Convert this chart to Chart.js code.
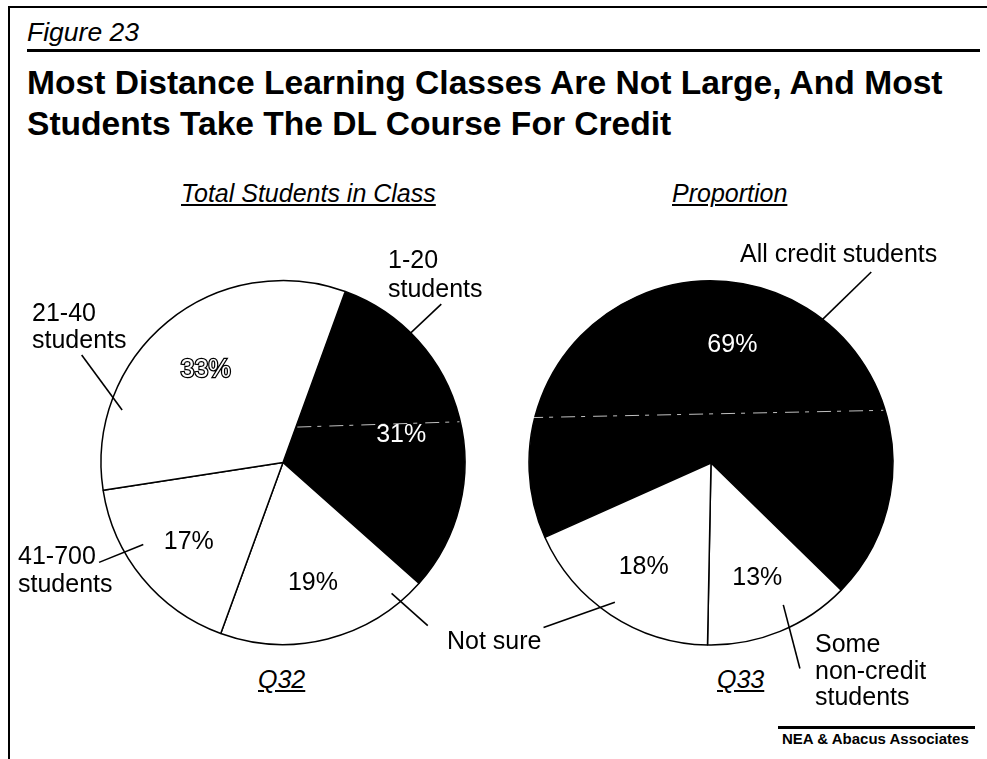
<!DOCTYPE html>
<html>
<head>
<meta charset="utf-8">
<script src="https://cdn.jsdelivr.net/npm/chart.js@4.4.1/dist/chart.umd.min.js"></script>
<style>
  body { margin: 0; background: #fff; }
  #page { position: relative; width: 987px; height: 759px; overflow: hidden;
          font-family: "Liberation Sans", Arial, sans-serif; color: #000; }
  .txt { position: absolute; white-space: nowrap; line-height: 1; }
  .rule { position: absolute; background: #000; }
  .lbl { position: absolute; font-size: 25px; }
  canvas { position: absolute; left: 0; top: 0; }
</style>
</head>
<body>
<div id="page">
  <div class="rule" style="left:9px;top:6px;width:978px;height:2px"></div>
  <div class="rule" style="left:8px;top:6px;width:2px;height:753px"></div>
  <div class="txt" style="left:27px;top:19px;font-size:26.5px;font-style:italic">Figure 23</div>
  <div class="rule" style="left:27px;top:49px;width:953px;height:3px"></div>
  <div class="txt" style="left:27px;top:66px;font-size:33.6px;font-weight:bold">Most Distance Learning Classes Are Not Large, And Most</div>
  <div class="txt" style="left:27px;top:107px;font-size:33.6px;font-weight:bold">Students Take The DL Course For Credit</div>
  <div class="txt" style="left:181px;top:181px;font-size:25px;font-style:italic;text-decoration:underline">Total Students in Class</div>
  <div class="txt" style="left:672px;top:181px;font-size:25px;font-style:italic;text-decoration:underline">Proportion</div>
  <div class="txt" style="left:258px;top:667px;font-size:25px;font-style:italic;text-decoration:underline">Q32</div>
  <div class="txt" style="left:717px;top:667px;font-size:25px;font-style:italic;text-decoration:underline">Q33</div>
  <div class="rule" style="left:778px;top:726px;width:197px;height:3px"></div>
  <div class="txt" style="left:782px;top:731px;font-size:15px;font-weight:bold">NEA &amp; Abacus Associates</div>
  <canvas id="classSize" width="987" height="759"></canvas>
  <canvas id="creditShare" width="987" height="759"></canvas>
</div>
<script>
// Q32 - total students in class (clockwise from the 1-20 slice)
const sizeCategories = ['1-20 students', 'Not sure', '41-700 students', '21-40 students'];
const sizeValues = [31, 19, 17, 33];
const sizeColors = ['#000', '#fff', '#fff', '#fff'];
const sizeValueStyle = ['#fff', '#000', '#000', 'outline'];

// Q33 - proportion of credit students
const creditCategories = ['All credit students', 'Some non-credit students', 'Not sure'];
const creditValues = [69, 13, 18];
const creditColors = ['#000', '#fff', '#fff'];
const creditValueStyle = ['#fff', '#000', '#000'];

// category label placement: x, first baseline, wrap width, line height
const sizeLabelPos = [
  {x: 388, y: 268, w: 100, lh: 28.5},
  {x: 447, y: 649, w: 0, lh: 28},
  {x: 18, y: 564, w: 100, lh: 28},
  {x: 32, y: 321, w: 100, lh: 27.5}
];
const creditLabelPos = [
  {x: 740, y: 262, w: 0, lh: 28},
  {x: 815, y: 652, w: 116, lh: 26.5},
  null // "Not sure" text is shared with the left pie
];

// leader lines: [angle, radius factor] inner -> outer, angle clockwise from top
const sizeLeaders = [
  [44.5, 0.96, 45.0, 1.23],
  [140.3, 0.934, 138.4, 1.198],
  [239.6, 0.89, 241.5, 1.15],
  [288.1, 0.93, 298.1, 1.254]
];
const creditLeaders = [
  [37.6, 0.97, 40.0, 1.37],
  [153.0, 0.875, 156.6, 1.23],
  [214.6, 0.93, 225.5, 1.29]
];

// faint scan streak across the black slices: [angle, radius factor] start -> end
const sizeStreak = [22, 0.21, 77, 0.995];
const creditStreak = [284, 1.03, 73, 0.99];

function polar(cx, cy, R, deg, f) {
  const a = deg * Math.PI / 180;
  return {x: cx + Math.sin(a) * f * R, y: cy - Math.cos(a) * f * R};
}

const pieLabels = {
  id: 'pieLabels',
  afterDatasetsDraw(chart, args, opts) {
    const ctx = chart.ctx;
    const meta = chart.getDatasetMeta(0);
    const values = chart.data.datasets[0].data;
    const a0 = meta.data[0];
    ctx.save();
    // streak
    const s0 = polar(a0.x, a0.y, a0.outerRadius, opts.streak[0], opts.streak[1]);
    const s1 = polar(a0.x, a0.y, a0.outerRadius, opts.streak[2], opts.streak[3]);
    ctx.strokeStyle = 'rgba(255,255,255,0.75)';
    ctx.lineWidth = 1;
    ctx.setLineDash([14, 6, 4, 8]);
    ctx.beginPath();
    ctx.moveTo(s0.x, s0.y);
    ctx.lineTo(s1.x, s1.y);
    ctx.stroke();
    ctx.setLineDash([]);

    ctx.font = '25px "Liberation Sans", Arial, sans-serif';
    ctx.textAlign = 'center';
    ctx.textBaseline = 'alphabetic';
    meta.data.forEach((arc, i) => {
      const p = arc.getProps(['x', 'y', 'startAngle', 'endAngle', 'outerRadius'], true);
      const mid = (p.startAngle + p.endAngle) / 2;
      const r = p.outerRadius * 0.67;
      const px = p.x + Math.cos(mid) * r;
      const py = p.y + Math.sin(mid) * r + 9;
      const text = values[i] + '%';
      const st = opts.valueStyle[i];
      if (st === 'outline') {
        ctx.lineWidth = 2.5;
        ctx.strokeStyle = '#000';
        ctx.strokeText(text, px, py);
        ctx.fillStyle = '#fff';
        ctx.fillText(text, px, py);
      } else {
        ctx.fillStyle = st;
        ctx.fillText(text, px, py);
      }
    });
    ctx.strokeStyle = '#000';
    ctx.lineWidth = 1.6;
    opts.leaders.forEach(l => {
      const s = polar(a0.x, a0.y, a0.outerRadius, l[0], l[1]);
      const e = polar(a0.x, a0.y, a0.outerRadius, l[2], l[3]);
      ctx.beginPath();
      ctx.moveTo(s.x, s.y);
      ctx.lineTo(e.x, e.y);
      ctx.stroke();
    });
    ctx.restore();
  }
};

function makePie(id, cats, vals, colors, valueStyle, leaders, streak, rotation, pad) {
  return new Chart(document.getElementById(id), {
    type: 'pie',
    data: {
      labels: cats,
      datasets: [{
        data: vals,
        backgroundColor: colors,
        borderColor: '#000',
        borderWidth: 1.5
      }]
    },
    options: {
      responsive: false,
      animation: false,
      events: [],
      rotation: rotation,
      radius: 182,
      layout: {padding: pad},
      plugins: {
        legend: {display: false},
        tooltip: {enabled: false},
        pieLabels: {valueStyle: valueStyle, leaders: leaders, streak: streak}
      }
    },
    plugins: [pieLabels]
  });
}

function placeLabels(cats, pos) {
  const page = document.getElementById('page');
  cats.forEach((c, i) => {
    const p = pos[i];
    if (!p) return;
    const d = document.createElement('div');
    d.className = 'lbl';
    d.textContent = c;
    const fs = 25;
    d.style.lineHeight = p.lh + 'px';
    d.style.left = p.x + 'px';
    d.style.top = (p.y - ((p.lh - 1.117 * fs) / 2 + 0.905 * fs)) + 'px';
    if (p.w) d.style.width = p.w + 'px'; else d.style.whiteSpace = 'nowrap';
    page.appendChild(d);
  });
}

makePie('classSize', sizeCategories, sizeValues, sizeColors, sizeValueStyle, sizeLeaders, sizeStreak, 20,
  {left: 101, right: 522, top: 280, bottom: 114});
makePie('creditShare', creditCategories, creditValues, creditColors, creditValueStyle, creditLeaders, creditStreak, 245.9,
  {left: 529, right: 94, top: 281, bottom: 114});
placeLabels(sizeCategories, sizeLabelPos);
placeLabels(creditCategories, creditLabelPos);
</script>
</body>
</html>
